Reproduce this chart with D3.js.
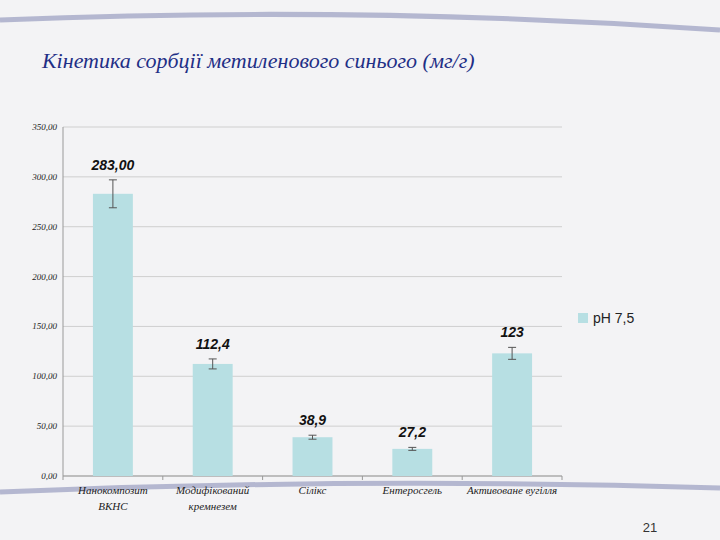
<!DOCTYPE html><html><head><meta charset="utf-8"><script src="https://d3js.org/d3.v7.min.js"></script>
<style>body{margin:0;background:#f3f3f5}</style></head><body><svg id="c" width="720" height="540"></svg><script>
const categories=[["Нанокомпозит","ВКНС"],["Модифікований","кремнезем"],["Сілікс"],["Ентеросгель"],["Активоване вугілля"]];
const values=[283.00,112.4,38.9,27.2,123];
const labels=["283,00","112,4","38,9","27,2","123"];
const errors=[14,5,2,1.5,6];
const ticks=[0,50,100,150,200,250,300,350];
const svg=d3.select("#c");
svg.append("rect").attr("width",720).attr("height",540).attr("fill","#f3f3f5");
[[0,20,720,30],[0,492,720,488]].forEach(d=>svg.append("path").attr("d",`M${d[0]},${d[1]} Q360,${d[1]-15} ${d[2]},${d[3]}`).attr("stroke","#8a8fb8").attr("stroke-width",5).attr("fill","none").attr("opacity",0.6));
svg.append("text").attr("x",42).attr("y",68).attr("font-family","Liberation Serif").attr("font-style","italic").attr("font-size",22).attr("fill","#1f2f86").text("Кінетика сорбції метиленового синього (мг/г)");
const x=d3.scaleBand().domain(d3.range(5)).range([63,562]).paddingInner(0.6).paddingOuter(0.3);
const y=d3.scaleLinear().domain([0,350]).range([476,127]);
const g=svg.append("g");
ticks.forEach(t=>{g.append("line").attr("x1",63).attr("x2",562).attr("y1",y(t)).attr("y2",y(t)).attr("stroke","#cfcfcf");
g.append("text").attr("x",57).attr("y",y(t)+3).attr("text-anchor","end").attr("font-family","Liberation Serif").attr("font-style","italic").attr("font-size",9).attr("fill","#222").text(t.toFixed(2).replace(".",","));});
g.append("line").attr("x1",63).attr("x2",63).attr("y1",127).attr("y2",476).attr("stroke","#999");
g.append("line").attr("x1",63).attr("x2",562).attr("y1",476).attr("y2",476).attr("stroke","#999");
d3.range(6).forEach(i=>{const xx=63+i*(499/5);g.append("line").attr("x1",xx).attr("x2",xx).attr("y1",476).attr("y2",480).attr("stroke","#999");});
values.forEach((v,i)=>{const cx=x(i)+x.bandwidth()/2;
g.append("rect").attr("x",x(i)).attr("width",x.bandwidth()).attr("y",y(v)).attr("height",y(0)-y(v)).attr("fill","#b7dfe3");
const e=errors[i];
g.append("line").attr("x1",cx).attr("x2",cx).attr("y1",y(v+e)).attr("y2",y(v-e)).attr("stroke","#555");
[v+e,v-e].forEach(w=>g.append("line").attr("x1",cx-4).attr("x2",cx+4).attr("y1",y(w)).attr("y2",y(w)).attr("stroke","#555"));
g.append("text").attr("x",cx).attr("y",y(v+e)-10).attr("text-anchor","middle").attr("font-family","Liberation Sans").attr("font-style","italic").attr("font-weight","bold").attr("font-size",14).attr("fill","#111").text(labels[i]);
categories[i].forEach((s,k)=>g.append("text").attr("x",63+(i+0.5)*(499/5)).attr("y",494+k*16).attr("text-anchor","middle").attr("font-family","Liberation Serif").attr("font-style","italic").attr("font-size",11).attr("fill","#222").text(s));
});
svg.append("rect").attr("x",578).attr("y",313).attr("width",10).attr("height",10).attr("fill","#b7dfe3");
svg.append("text").attr("x",593).attr("y",323).attr("font-family","Liberation Sans").attr("font-size",14).attr("fill","#222").text("pH 7,5");
svg.append("text").attr("x",650).attr("y",532).attr("text-anchor","middle").attr("font-family","Liberation Sans").attr("font-size",13).attr("fill","#333").text("21");
</script></body></html>
